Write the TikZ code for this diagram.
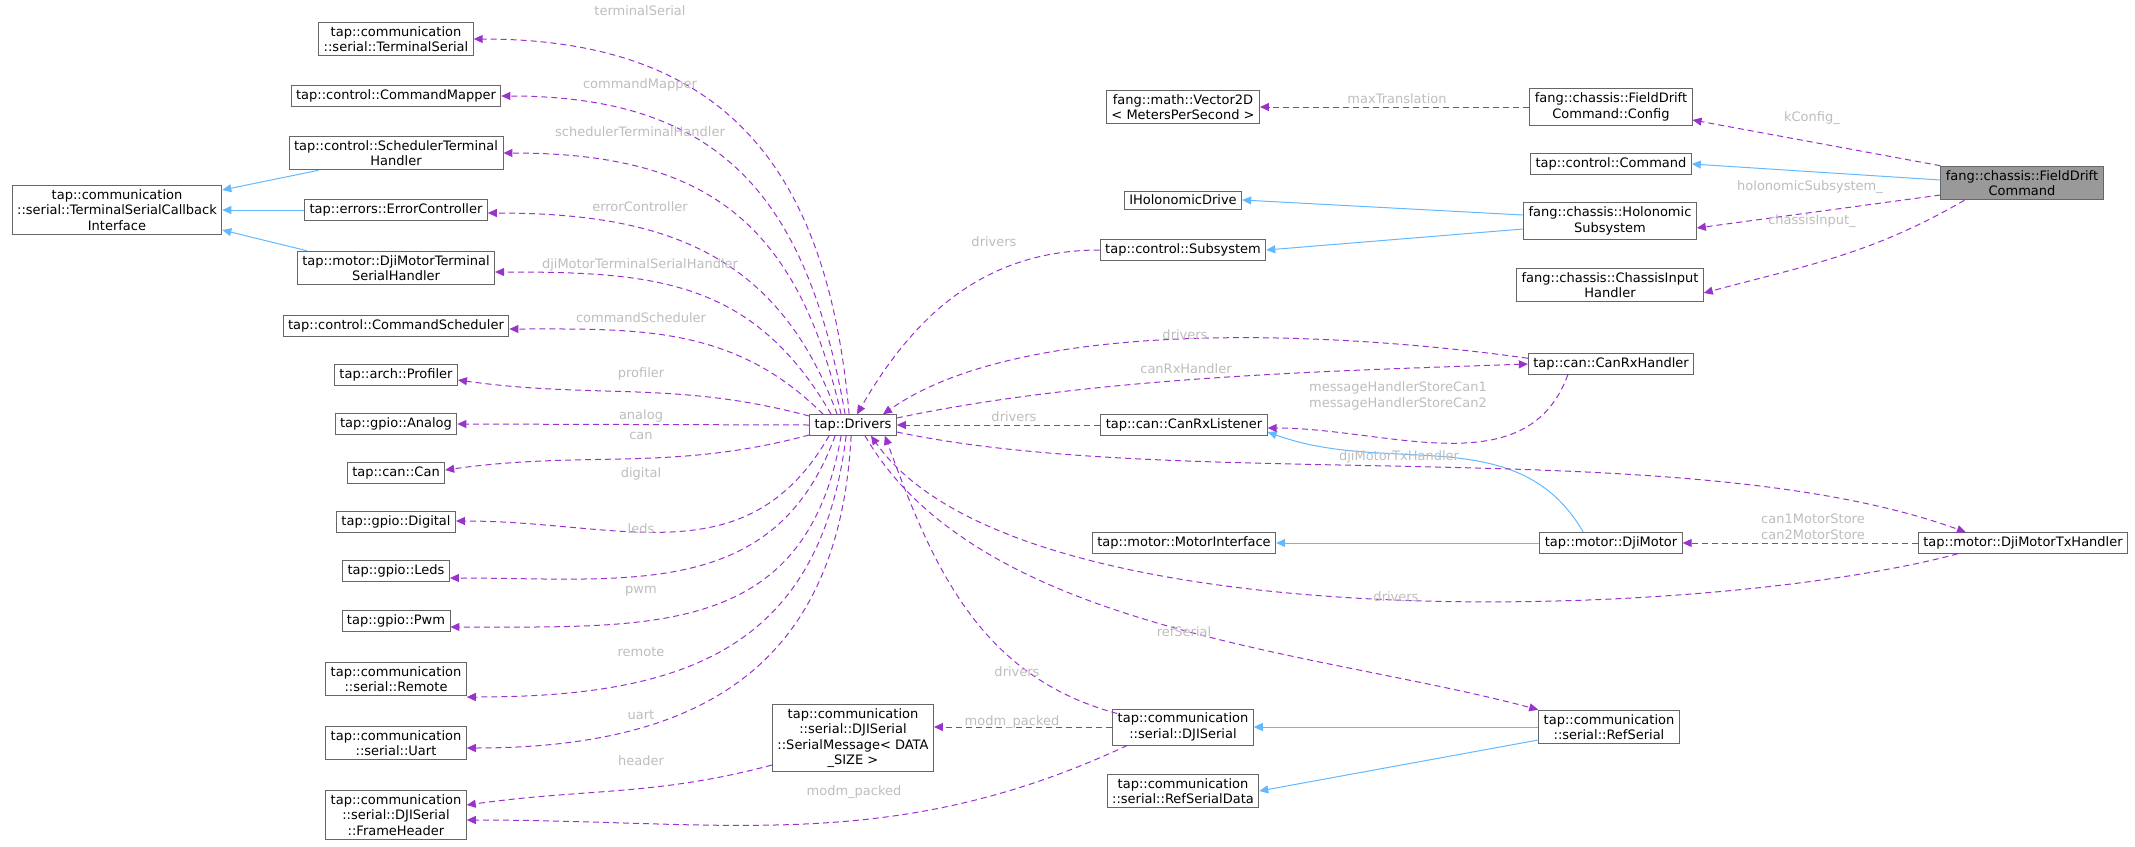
\documentclass[tikz,border=0pt]{standalone}
\usepackage{fontspec}
\setmainfont{DejaVu Sans}
\usetikzlibrary{arrows.meta}
\definecolor{pu}{HTML}{9A32CD}
\definecolor{bl}{HTML}{63B8FF}
\definecolor{bd}{HTML}{666666}
\definecolor{lb}{HTML}{BDBDBD}
\tikzset{
 cls/.style={draw=bd,fill=white,line width=0.225pt,inner xsep=1.25pt,inner ysep=1pt,align=center,font=\fontsize{3.25}{3.9}\selectfont},
 mem/.style={pu,line width=0.25pt,dash pattern=on 1.5pt off 1pt,-{Triangle[length=2.25pt,width=2pt]}},
 inh/.style={bl,line width=0.25pt,-{Triangle[length=2.25pt,width=2pt]}},
 lab/.style={text=lb,align=center,font=\fontsize{3.25}{3.9}\selectfont,inner sep=0pt}
}
\begin{document}
\begin{tikzpicture}[x=0.25pt,y=-0.25pt]
\useasboundingbox (0,0) rectangle (2135,847);
% left column
\node[cls] (ts) at (396,39) {tap::communication\\::serial::TerminalSerial};
\node[cls] (cm) at (396,96) {tap::control::CommandMapper};
\node[cls] (sth) at (396,153) {tap::control::SchedulerTerminal\\Handler};
\node[cls] (tsci) at (117,210) {tap::communication\\::serial::TerminalSerialCallback\\Interface};
\node[cls] (ec) at (396,210) {tap::errors::ErrorController};
\node[cls] (dmtsh) at (396,268) {tap::motor::DjiMotorTerminal\\SerialHandler};
\node[cls] (cs) at (396,326) {tap::control::CommandScheduler};
\node[cls] (prof) at (396,375) {tap::arch::Profiler};
\node[cls] (ana) at (396,424) {tap::gpio::Analog};
\node[cls] (can) at (396,473) {tap::can::Can};
\node[cls] (dig) at (396,522) {tap::gpio::Digital};
\node[cls] (leds) at (396,571) {tap::gpio::Leds};
\node[cls] (pwm) at (396,621) {tap::gpio::Pwm};
\node[cls] (rem) at (396,679) {tap::communication\\::serial::Remote};
\node[cls] (uart) at (396,743) {tap::communication\\::serial::Uart};
\node[cls] (fh) at (396,815) {tap::communication\\::serial::DJISerial\\::FrameHeader};
% drivers column
\node[cls] (drv) at (853,425) {tap::Drivers};
\node[cls] (sm) at (853,738) {tap::communication\\::serial::DJISerial\\::SerialMessage< DATA\\\_SIZE >};
% column 3
\node[cls] (vec) at (1183,107) {fang::math::Vector2D\\< MetersPerSecond >};
\node[cls] (ihol) at (1183,200) {IHolonomicDrive};
\node[cls] (sub) at (1183,250) {tap::control::Subsystem};
\node[cls] (crl) at (1184,425) {tap::can::CanRxListener};
\node[cls] (mi) at (1184,543) {tap::motor::MotorInterface};
\node[cls] (djs) at (1183,727) {tap::communication\\::serial::DJISerial};
\node[cls] (rsd) at (1183,791) {tap::communication\\::serial::RefSerialData};
% column 4
\node[cls] (cfg) at (1611,107) {fang::chassis::FieldDrift\\Command::Config};
\node[cls] (cmd) at (1611,164) {tap::control::Command};
\node[cls] (hol) at (1610,221) {fang::chassis::Holonomic\\Subsystem};
\node[cls] (cih) at (1610,285) {fang::chassis::ChassisInput\\Handler};
\node[cls] (crh) at (1611,364) {tap::can::CanRxHandler};
\node[cls] (djm) at (1611,543) {tap::motor::DjiMotor};
\node[cls] (rs) at (1609,727) {tap::communication\\::serial::RefSerial};
% column 5
\node[cls,fill=gray!80] (fd) at (2022,183) {fang::chassis::FieldDrift\\Command};
\node[cls] (dtx) at (2023,543) {tap::motor::DjiMotorTxHandler};

\coordinate (c1) at (tsci.east |- 0,190);
\coordinate (c2) at (tsci.east |- 0,230);
% inheritance
\draw[inh] ([xshift=7.5pt]sth.south west) -- (c1);
\draw[inh] (ec) -- (tsci.east |- ec);
\draw[inh] ([xshift=2.5pt]dmtsh.north west) -- (c2);
\draw[inh] (fd.west |- 0,180) -- (cmd.east);
\draw[inh] (hol.west |- 0,215) -- (ihol.east);
\draw[inh] (hol.west |- 0,229) -- (sub.east);
\draw[inh] (djm) -- (mi);
\draw[inh] ([xshift=11pt]djm.north west) to[out=120,in=-20] (crl.east |- 0,432);
\draw[inh] (rs.west |- djs) -- (djs.east);
\draw[inh] (rs.west |- 0,740) -- (rsd.east);

% members from drivers to left
\draw[mem] ([xshift=10pt]drv.north west) to[out=95,in=0,looseness=1.2] (ts.east);
\draw[mem] ([xshift=9pt]drv.north west) to[out=100,in=0,looseness=1.2] (cm.east);
\draw[mem] ([xshift=8pt]drv.north west) to[out=103,in=0,looseness=1.2] (sth.east);
\draw[mem] ([xshift=7pt]drv.north west) to[out=110,in=0,looseness=1.1] (ec.east |- 0,213);
\draw[mem] ([xshift=5.5pt]drv.north west) to[out=120,in=0,looseness=1.1] (dmtsh.east |- 0,272);
\draw[mem] ([xshift=3.5pt]drv.north west) to[out=135,in=0] (cs.east |- 0,329);
\draw[mem] (drv.west |- 0,416) to[out=165,in=-8] (prof.east |- 0,380);
\draw[mem] (drv.west) -- (ana.east);
\draw[mem] (drv.west |- 0,435) to[out=195,in=8] (can.east |- 0,470);
\draw[mem] ([xshift=5pt]drv.south west) to[out=-120,in=0,looseness=1.1] (dig.east |- 0,521);
\draw[mem] ([xshift=6.5pt]drv.south west) to[out=-110,in=0,looseness=1.1] (leds.east |- 0,578);
\draw[mem] ([xshift=8pt]drv.south west) to[out=-100,in=0,looseness=1.2] (pwm.east |- 0,627);
\draw[mem] ([xshift=9.25pt]drv.south west) to[out=-97,in=0,looseness=1.2] (rem.east |- 0,697);
\draw[mem] ([xshift=10.5pt]drv.south west) to[out=-93,in=0,looseness=1.2] (uart.east |- 0,748);
\draw[mem] (sm.west |- 0,765) to[out=195,in=8] (fh.east |- 0,805);
\draw[mem] ([xshift=3.75pt]djs.south west) to[out=-155,in=0] (fh.east |- 0,820);
\draw[mem] (djs.west) -- (sm.east |- djs);
\draw[mem] ([xshift=1.25pt,yshift=-1.25pt]djs.north west) to[out=165,in=-70] ([xshift=-3pt]drv.south east);
\draw[mem] (sub.west) to[out=180,in=60] ([xshift=1pt]drv.north);
\draw[mem] ([yshift=-1.25pt]crh.north west) to[out=172,in=35,looseness=0.7] ([xshift=7.5pt]drv.north);
\draw[mem] (drv.east |- 0,418) to[out=12,in=182,looseness=0.8] (crh.west);
\draw[mem] (crl.west) -- (drv.east);
\draw[mem] ([xshift=10pt]crh.south west) to[out=-110,in=0] (crl.east |- 0,428);
\draw[mem] (drv.east |- 0,432) to[out=-12,in=160,looseness=0.7] ([xshift=12pt]dtx.north west);
\draw[mem] ([xshift=10pt]dtx.south west) to[out=-165,in=-55,looseness=0.6] ([xshift=4.5pt]drv.south);
\draw[mem] ([xshift=3pt]drv.south) to[out=-60,in=165,looseness=0.8] (rs.north west);
\draw[mem] (dtx.west) -- (djm.east);
\draw[mem] (cfg.west) -- (vec.east);
\draw[mem] (fd.north west) -- (cfg.east |- 0,120);
\draw[mem] (fd.west |- 0,195) -- (hol.east |- 0,228);
\draw[mem] ([xshift=6pt]fd.south west) to[out=-150,in=15] (cih.east |- 0,293);

% labels
\node[lab] at (640,11) {terminalSerial};
\node[lab] at (640,85) {commandMapper};
\node[lab] at (640,132) {schedulerTerminalHandler};
\node[lab] at (640,207) {errorController};
\node[lab] at (640,265) {djiMotorTerminalSerialHandler};
\node[lab] at (641,318) {commandScheduler};
\node[lab] at (641,374) {profiler};
\node[lab] at (641,416) {analog};
\node[lab] at (641,436) {can};
\node[lab] at (641,474) {digital};
\node[lab] at (641,529) {leds};
\node[lab] at (641,591) {pwm};
\node[lab] at (641,652) {remote};
\node[lab] at (641,715) {uart};
\node[lab] at (641,761) {header};
\node[lab] at (854,792) {modm\_packed};
\node[lab] at (1012,722) {modm\_packed};
\node[lab] at (1017,672) {drivers};
\node[lab] at (1184,632) {refSerial};
\node[lab] at (1396,597) {drivers};
\node[lab] at (1813,527) {can1MotorStore\\can2MotorStore};
\node[lab] at (1399,457) {djiMotorTxHandler};
\node[lab] at (1014,417) {drivers};
\node[lab] at (1398,396) {messageHandlerStoreCan1\\messageHandlerStoreCan2};
\node[lab] at (1186,369) {canRxHandler};
\node[lab] at (1185,335) {drivers};
\node[lab] at (994,242) {drivers};
\node[lab] at (1397,99) {maxTranslation};
\node[lab] at (1812,118) {kConfig\_};
\node[lab] at (1810,187) {holonomicSubsystem\_};
\node[lab] at (1812,221) {chassisInput\_};
\end{tikzpicture}
\end{document}
